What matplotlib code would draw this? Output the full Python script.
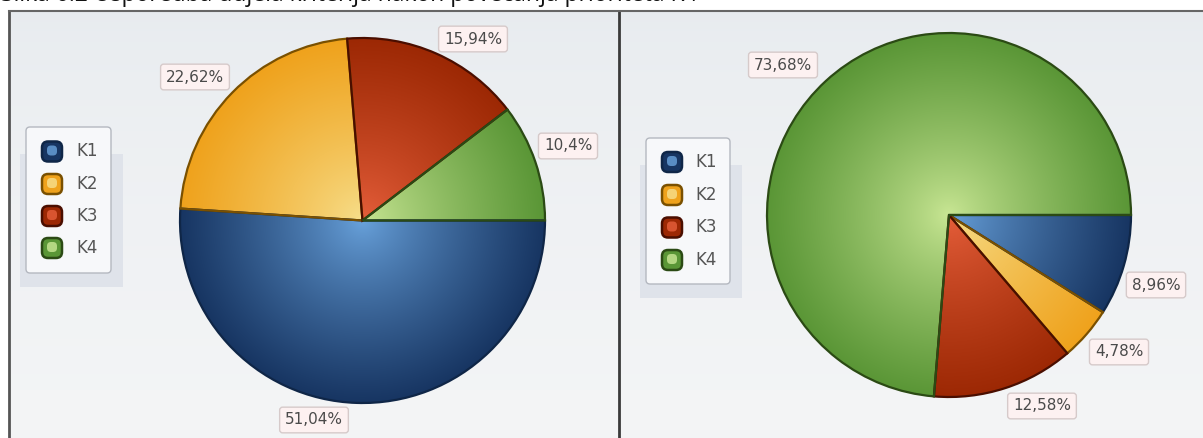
import numpy as np
import matplotlib.pyplot as plt
from matplotlib.patches import Rectangle, FancyBboxPatch
from matplotlib.colors import to_rgb

W, H = 1203, 438

categories = ["K1", "K2", "K3", "K4"]
before = [51.04, 22.62, 15.94, 10.40]
after = [8.96, 4.78, 12.58, 73.68]
before_labels = ["51,04%", "22,62%", "15,94%", "10,4%"]
after_labels = ["8,96%", "4,78%", "12,58%", "73,68%"]
title = "Slika 6.2 Usporedba udjela kriterija nakon povećanja prioriteta K4"

light = ["#6aa4de", "#f7e08e", "#e8603c", "#cbe896"]
dark = ["#173562", "#efa21c", "#9c2804", "#5a9636"]
edges = ["#0f2647", "#7a5000", "#4a0e00", "#2b4a14"]

fig = plt.figure(figsize=(W / 100, H / 100), dpi=100)
fig.patch.set_facecolor("white")

# background / panels in pixel coords
bg = fig.add_axes([0, 0, 1, 1])
bg.set_xlim(0, W)
bg.set_ylim(H, 0)
bg.axis("off")

grad = np.linspace(0, 1, 200)[:, None, None]
top_c = np.array(to_rgb("#e7ebef"))
bot_c = np.array(to_rgb("#f4f5f6"))
panel_img = top_c * (1 - grad ** 0.6) + bot_c * grad ** 0.6
for x0, x1 in [(9, 619), (619, 1210)]:
    bg.imshow(panel_img, extent=(x0, x1, 445, 11), aspect="auto", zorder=0)
bg.set_xlim(0, W)
bg.set_ylim(H, 0)
bg.plot([9, 9], [11, 440], color="#555555", lw=2, zorder=3)
bg.plot([619, 619], [11, 440], color="#3a3a3a", lw=2, zorder=3)
bg.plot([9, 1210], [11, 11], color="#666666", lw=1.5, zorder=3)

# caption above the chart, cut off by the top edge as in the screenshot
fig.text(0.001, 1 - 1 / H, title, fontsize=16.5, family="Open Sans",
         va="baseline", ha="left", color="#111111")


def draw_legend(x0, y0, x1, y1, mx, tx, ys):
    bg.add_patch(Rectangle((x0 - 6, y0 + 27), (x1 - x0) + 18, (y1 - y0) - 13,
                           fc="#dfe3ea", ec="none", zorder=1))
    bg.add_patch(FancyBboxPatch((x0, y0), x1 - x0, y1 - y0,
                                boxstyle="round,pad=0,rounding_size=4",
                                fc="#f7f8fa", ec="#b4b8c0", lw=1, zorder=2))
    for cat, y, lc, dc, ec in zip(categories, ys, light, dark, edges):
        bg.add_patch(FancyBboxPatch((mx - 10, y - 10), 20, 20,
                                    boxstyle="round,pad=0,rounding_size=6",
                                    fc=dc, ec=ec, lw=1.8, zorder=3))
        bg.add_patch(FancyBboxPatch((mx - 5, y - 6), 10, 10,
                                    boxstyle="round,pad=0,rounding_size=4",
                                    fc=lc, ec="none", alpha=0.8, zorder=3))
        bg.text(tx, y, cat, fontsize=12, color="#555555", va="center",
                ha="left", zorder=3)


draw_legend(26, 127, 111, 273, 52, 76, [151.5, 184, 216, 248])
draw_legend(646, 138, 730, 284, 672, 695, [162, 195, 227.5, 260])

n = 500
xs = np.linspace(-1, 1, n)
X, Y = np.meshgrid(xs, xs)
t = np.clip(np.hypot(X, Y), 0, 1)[..., None] ** 0.8


def draw_pie(cx, cy, r, values):
    pad = 4
    rr = r + pad
    ax = fig.add_axes([(cx - rr) / W, 1 - (cy + rr) / H, 2 * rr / W, 2 * rr / H])
    wedges, _ = ax.pie(values, startangle=0, counterclock=False, radius=1,
                       wedgeprops=dict(linewidth=1.6))
    for w, lc, dc, ec in zip(wedges, light, dark, edges):
        img = np.array(to_rgb(lc)) * (1 - t) + np.array(to_rgb(dc)) * t
        im = ax.imshow(img, extent=(-1, 1, -1, 1), origin="lower", zorder=1,
                       interpolation="bilinear")
        im.set_clip_path(w)
        w.set_facecolor("none")
        w.set_edgecolor(ec)
        w.set_zorder(2)
    lim = rr / r
    ax.set_xlim(-lim, lim)
    ax.set_ylim(-lim, lim)
    ax.axis("off")
    return ax


draw_pie(362.5, 220.5, 182.5, before)
draw_pie(949, 215, 182, after)

label_box = dict(boxstyle="round,pad=0.35,rounding_size=0.2", fc="#fdf1f1",
                 ec="#d6caca", lw=1)
before_pos = [(314, 420), (195, 77), (473, 39), (568, 146)]
after_pos = [(1156, 285), (1119, 352), (1042, 406), (783, 65)]
for txt, (x, y) in zip(before_labels + after_labels, before_pos + after_pos):
    bg.text(x, y, txt, fontsize=11, color="#4a4a4a", ha="center", va="center",
            bbox=label_box, zorder=5)

fig.savefig("out.png", dpi=100)
